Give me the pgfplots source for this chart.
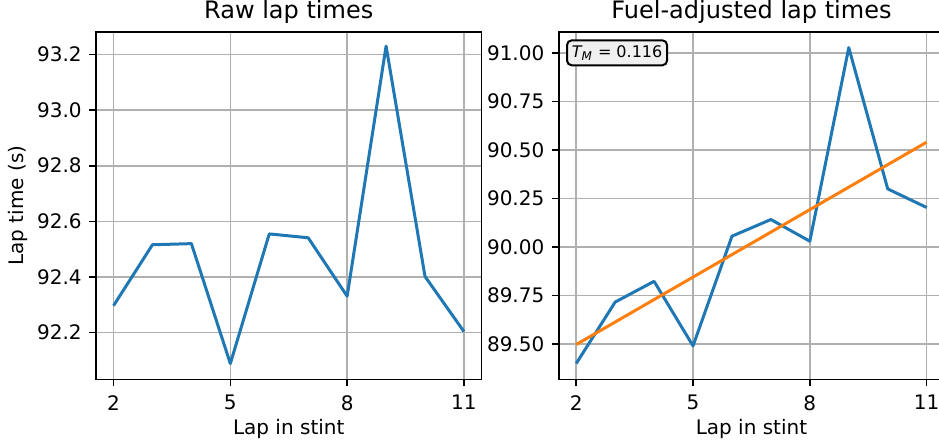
\documentclass[border=0pt]{standalone}
\usepackage{pgfplots}
\pgfplotsset{compat=1.18}
\usepackage{fontspec}
\setmainfont{DejaVu Sans}

\definecolor{mplblue}{HTML}{1F77B4}
\definecolor{mplorange}{HTML}{FF7F0E}
\definecolor{mplgrid}{HTML}{B0B0B0}
\definecolor{boxfill}{HTML}{F0F0F0}

\pgfplotsset{
  lapaxis/.style={
    scale only axis,
    width=192.75pt, height=173.8pt,
    anchor=north west,
    xmin=1.55, xmax=11.45,
    xtick={2,5,8,11},
    axis line style={line width=0.8pt, black},
    tick style={line width=0.8pt, black},
    tick align=outside,
    major tick length=3.5pt,
    xtick pos=bottom, ytick pos=left,
    grid=major,
    major grid style={line width=0.8pt, color=mplgrid},
    /pgf/number format/assume math mode=true,
    tick label style={font=\fontsize{10}{12}\selectfont, inner sep=0pt},
    xticklabel style={anchor=north, yshift=-4.3pt},
    yticklabel style={anchor=east, xshift=-3.5pt},
    xlabel={Lap in stint},
    xlabel style={at={(axis description cs:0.5,0)}, anchor=base, inner sep=0pt,
      yshift=-27.8pt, font=\fontsize{10}{12}\selectfont},
    every axis title shift=0pt,
    title style={at={(axis description cs:0.5,1)}, anchor=base, inner sep=0pt,
      yshift=6.7pt, font=\fontsize{12}{14}\selectfont},
    every axis plot/.append style={line width=1.5pt, no marks, line join=round},
  },
}

\begin{document}
\begin{tikzpicture}
\path[use as bounding box] (0,0) rectangle (469.5pt,-223.5pt);
\clip (0,0) rectangle (469.5pt,-223.5pt);

% Raw lap times
\begin{axis}[lapaxis, at={(48pt,-15.85pt)},
  title={Raw lap times},
  ymin=92.0325, ymax=93.2815,
  ytick={92.2,92.4,92.6,92.8,93.0,93.2},
  yticklabel style={/pgf/number format/.cd, fixed, fixed zerofill, precision=1},
  ylabel={Lap time (s)},
  ylabel style={at={(axis description cs:0,0.5)}, anchor=base, inner sep=0pt,
    yshift=36pt, font=\fontsize{10}{12}\selectfont},
]
\addplot[mplblue] coordinates {
  (2,92.297) (3,92.516) (4,92.520) (5,92.089) (6,92.555)
  (7,92.541) (8,92.331) (9,93.230) (10,92.402) (11,92.204)
};
\end{axis}

% Fuel-adjusted lap times with linear fit
\begin{axis}[lapaxis, at={(279.35pt,-15.85pt)},
  title={Fuel-adjusted lap times},
  ymin=89.3175, ymax=91.111,
  ytick={89.5,89.75,90.0,90.25,90.5,90.75,91.0},
  yticklabel style={/pgf/number format/.cd, fixed, fixed zerofill, precision=2},
]
\addplot[mplblue] coordinates {
  (2,89.399) (3,89.716) (4,89.823) (5,89.490) (6,90.056)
  (7,90.142) (8,90.030) (9,91.029) (10,90.300) (11,90.204)
};
\addplot[mplorange] coordinates {(2,89.497) (11,90.541)};
\node[draw=black, line width=1pt, fill=boxfill, rounded corners=2.4pt,
  anchor=north west, inner xsep=2.4pt, inner ysep=0pt, minimum height=12.5pt,
  font=\fontsize{8}{9.6}\selectfont]
  at ([xshift=3.65pt, yshift=-3.8pt]rel axis cs:0,1)
  {{\itshape T}\textsubscript{\itshape M} = 0.116};
\end{axis}
\end{tikzpicture}
\end{document}
